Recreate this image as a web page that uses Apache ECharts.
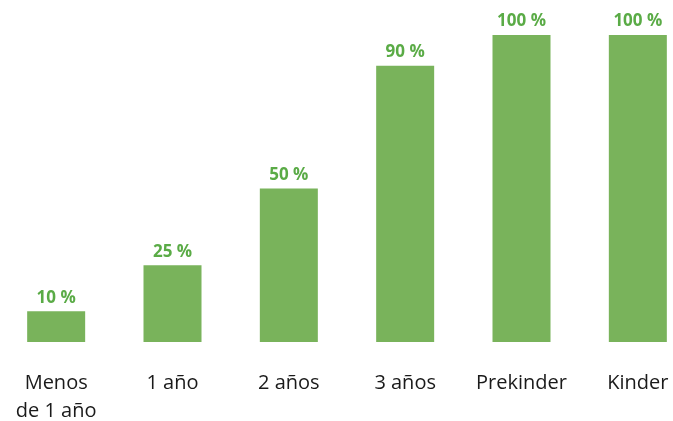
<!DOCTYPE html>
<html>
<head>
<meta charset="utf-8">
<script src="https://cdn.jsdelivr.net/npm/echarts@6/dist/echarts.min.js"></script>
<style>
  html, body { margin: 0; padding: 0; background: #ffffff; }
  #chart { width: 673px; height: 421px; }
</style>
</head>
<body>
<div id="chart"></div>
<script>
  // categories and coverage values (%)
  const categories = ['Menos\nde 1 año', '1 año', '2 años', '3 años', 'Prekinder', 'Kinder'];
  const coverage = [10, 25, 50, 90, 100, 100];

  const chart = echarts.init(document.getElementById('chart'));

  const option = {
    animation: false,
    grid: {
      left: -2,
      width: 698,
      top: 35,
      height: 307,
      outerBoundsMode: 'none'
    },
    xAxis: {
      type: 'category',
      data: categories,
      axisLine: { show: false },
      axisTick: { show: false },
      axisLabel: {
        interval: 0,
        margin: 27,
        fontFamily: 'Open Sans',
        fontSize: 20,
        lineHeight: 28,
        color: '#1a1a1a'
      }
    },
    yAxis: {
      type: 'value',
      min: 0,
      max: 100,
      show: false
    },
    series: [
      {
        type: 'bar',
        data: coverage,
        barWidth: 58,
        itemStyle: { color: '#79b35b' },
        label: {
          show: true,
          position: 'top',
          distance: 5,
          formatter: '{c} %',
          fontFamily: 'Open Sans',
          fontWeight: 'bold',
          fontSize: 17,
          color: '#5aab46'
        }
      }
    ]
  };

  chart.setOption(option);
</script>
</body>
</html>
